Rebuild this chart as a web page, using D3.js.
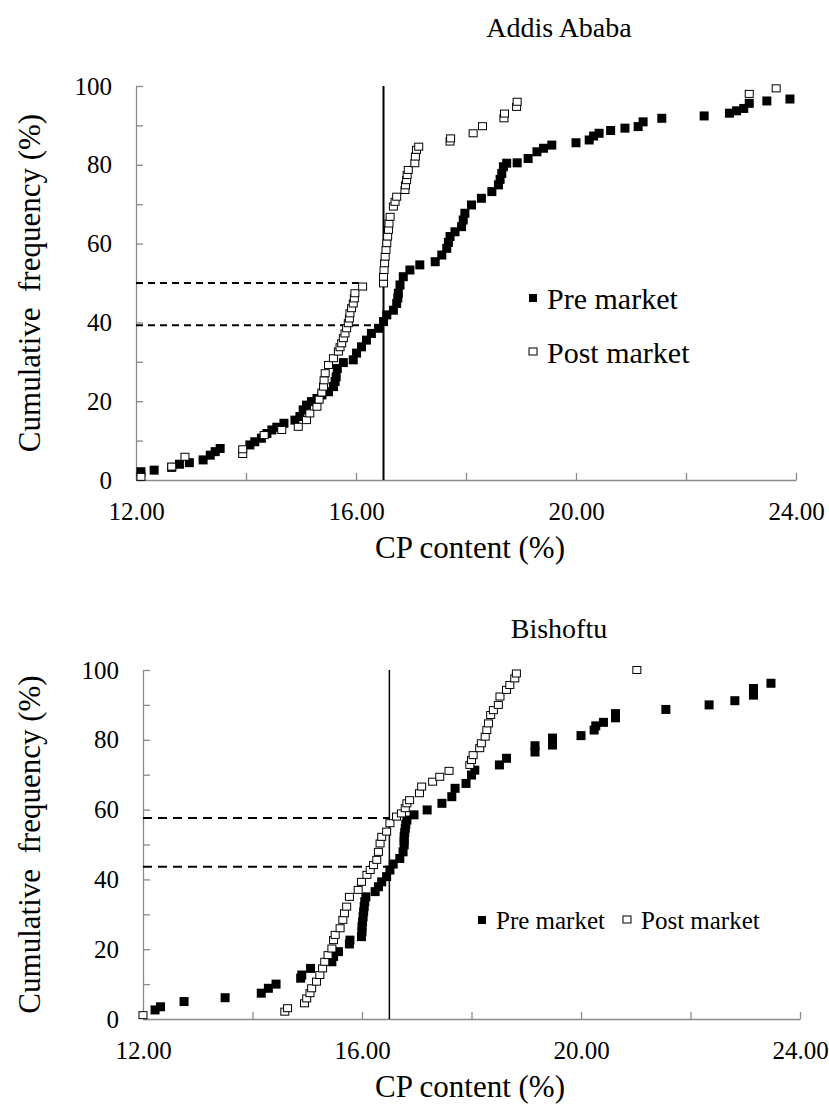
<!DOCTYPE html>
<html>
<head>
<meta charset="utf-8">
<script src="https://cdn.jsdelivr.net/npm/d3@7"></script>
<style>
  body { margin: 0; background: #fff; }
  svg { display: block; }
  svg text { font-family: "Liberation Serif", "Times New Roman", serif; }
</style>
</head>
<body>
<svg id="chart" width="829" height="1110"></svg>
<script>
// ----------- DATA -----------
// [CP content (%), cumulative frequency (%)]
const addisPre = [
  [12.09,2.1],[12.33,2.5],[12.65,3.2],[12.79,4.0],[12.97,4.4],[13.22,5.1],[13.35,6.3],[13.44,7.2],[13.53,8.0],
  [14.07,8.9],[14.16,9.7],[14.28,10.6],[14.38,11.8],[14.47,12.7],[14.56,13.4],[14.69,14.4],[14.89,15.2],[14.98,16.1],
  [15.04,17.8],[15.1,19.0],[15.19,19.9],[15.29,20.7],[15.38,21.6],[15.5,22.4],[15.59,23.7],[15.62,25.0],[15.64,26.2],
  [15.66,28.3],[15.77,29.8],[15.95,30.5],[16.01,32.2],[16.1,33.8],[16.19,35.5],[16.28,37.2],[16.41,38.5],[16.5,40.2],
  [16.56,41.9],[16.68,43.1],[16.74,44.8],[16.76,46.2],[16.77,47.4],[16.8,49.5],[16.86,51.6],[16.98,53.3],[17.16,54.6],
  [17.44,55.4],[17.56,57.1],[17.65,58.8],[17.68,60.3],[17.71,61.8],[17.8,63.0],[17.92,64.3],[17.95,66.0],[17.98,67.7],
  [18.1,69.8],[18.28,71.5],[18.47,73.2],[18.59,74.9],[18.62,76.3],[18.65,77.8],[18.68,79.5],[18.74,80.4],[18.93,80.5],
  [19.13,81.6],[19.29,83.3],[19.41,84.2],[19.56,85.0],[20.0,85.6],[20.24,86.3],[20.32,87.3],[20.42,88.0],[20.63,88.7],
  [20.89,89.3],[21.13,89.7],[21.22,90.9],[21.56,91.8],[22.33,92.4],[22.79,93.1],[22.92,93.7],[23.05,94.3],[23.15,95.6],
  [23.47,96.2],[23.89,96.7]
];

const addisPost = [
  [12.09,0.8],[12.65,3.4],[12.89,5.9],[13.94,6.6],[13.94,7.8],[14.33,11.4],[14.65,12.7],[14.95,13.5],[15.1,15.2],
  [15.16,16.9],[15.29,18.6],[15.33,20.4],[15.38,22.2],[15.41,23.7],[15.42,25.3],[15.44,27.1],[15.5,29.2],[15.59,30.9],
  [15.68,32.6],[15.71,33.7],[15.74,34.7],[15.77,36.0],[15.8,37.2],[15.83,38.5],[15.86,39.8],[15.88,41.0],[15.89,42.3],
  [15.92,43.6],[15.95,44.8],[15.97,46.1],[15.98,47.4],[16.12,49.1],[16.5,49.9],[16.5,51.6],[16.51,53.3],[16.52,55.0],
  [16.53,56.7],[16.545,58.4],[16.56,60.1],[16.575,61.8],[16.59,63.5],[16.6,65.1],[16.62,66.8],[16.68,69.4],[16.71,70.6],
  [16.74,71.9],[16.89,73.6],[16.9,74.8],[16.92,76.1],[16.93,77.4],[16.95,78.7],[17.07,80.4],[17.08,82.1],[17.1,83.8],
  [17.14,84.6],[17.71,85.9],[17.72,86.7],[18.13,88.0],[18.3,89.8],[18.69,91.8],[18.7,93.0],[18.92,94.7],[18.93,96.0],
  [23.15,98.0],[23.64,99.4]
];

const bishoftuPre = [
  [12.22,2.6],[12.32,3.5],[12.75,5.0],[13.5,6.1],[14.16,7.4],[14.29,8.8],[14.43,10.0],[14.88,11.7],[14.9,12.6],
  [15.06,14.5],[15.45,16.4],[15.48,17.9],[15.57,19.3],[15.77,21.5],[15.78,22.6],[15.99,23.6],[16.0,25.0],[16.0,26.4],
  [16.01,27.8],[16.02,29.3],[16.03,30.7],[16.04,32.2],[16.05,33.6],[16.07,35.0],[16.24,36.5],[16.3,37.9],[16.36,39.3],
  [16.45,40.8],[16.51,42.7],[16.57,44.4],[16.69,46.0],[16.75,47.9],[16.77,49.9],[16.77,51.0],[16.77,52.2],[16.78,53.4],
  [16.79,54.6],[16.8,55.8],[16.82,57.0],[16.95,58.5],[17.19,59.9],[17.46,61.8],[17.64,63.7],[17.7,66.1],[17.9,67.5],
  [18.0,69.9],[18.06,71.3],[18.51,72.8],[18.64,74.7],[19.16,76.5],[19.16,78.3],[19.48,78.5],[19.48,80.5],[20.0,81.2],
  [20.24,82.8],[20.27,84.0],[20.41,85.0],[20.63,86.3],[20.63,87.5],[21.55,88.7],[22.34,90.0],[22.81,91.2],[23.15,92.8],
  [23.15,94.7],[23.47,96.2]
];

const bishoftuPost = [
  [12.0,1.1],[14.59,2.1],[14.64,3.1],[14.95,4.5],[14.99,5.9],[15.05,7.4],[15.08,8.8],[15.17,10.7],[15.23,12.6],
  [15.28,14.5],[15.32,16.4],[15.38,18.3],[15.45,20.2],[15.48,22.6],[15.51,24.1],[15.6,26.0],[15.65,28.4],[15.68,30.3],
  [15.72,32.2],[15.77,35.0],[15.93,37.0],[15.99,39.3],[16.09,41.3],[16.15,42.7],[16.21,44.1],[16.27,45.6],[16.3,47.9],
  [16.33,50.3],[16.36,52.2],[16.45,53.7],[16.51,56.1],[16.63,58.0],[16.72,58.9],[16.79,60.4],[16.82,61.8],[16.87,62.7],
  [17.05,64.7],[17.09,66.6],[17.29,68.0],[17.42,69.4],[17.59,71.1],[17.97,72.8],[18.0,74.2],[18.03,75.6],[18.15,77.6],
  [18.18,79.0],[18.25,80.9],[18.28,82.8],[18.31,84.7],[18.35,87.1],[18.4,88.5],[18.49,90.0],[18.52,92.4],[18.64,94.3],
  [18.7,95.7],[18.79,97.6],[18.82,99.0],[21.02,100.0]
];

const xTicks = [12, 14, 16, 18, 20, 22, 24];
const yTicks = [0, 10, 20, 30, 40, 50, 60, 70, 80, 90, 100];
const seriesNames = ["Pre market", "Post market"];
const cpThreshold = 16.5;
// dashed guide lines: [frequency, CP where it stops]
const addisGuides = [[50, 16.05], [39.3, 16.5]];
const bishoftuGuides = [[57.6, 16.5], [43.6, 16.45]];

// ----------- DRAWING -----------
const svg = d3.select("#chart");
const serif = "Liberation Serif, Times New Roman, serif";

function drawPanel(p) {
  const g = svg.append("g");
  const x = d3.scaleLinear().domain([12, 24]).range([p.left, p.left + p.w]);
  const y = d3.scaleLinear().domain([0, 100]).range([p.top + p.h, p.top]);

  // axes
  const yAxis = g.append("g")
    .attr("transform", `translate(${p.left},0)`)
    .call(d3.axisLeft(y).tickValues(yTicks).tickSize(-7).tickSizeOuter(0).tickPadding(24)
      .tickFormat(d => d % 20 === 0 ? d : ""));
  const xAxis = g.append("g")
    .attr("transform", `translate(0,${p.top + p.h})`)
    .call(d3.axisBottom(x).tickValues(xTicks).tickSize(-7).tickSizeOuter(0).tickPadding(22)
      .tickFormat(d => d % 4 === 0 ? d.toFixed(2) : ""));
  [xAxis, yAxis].forEach(a => {
    a.attr("font-family", serif);
    a.selectAll("path, line").attr("stroke", "#8a8a8a").attr("stroke-width", 1.3);
    a.selectAll("text").attr("fill", "#000").attr("font-size", 25);
  });

  // guide lines
  g.append("line")
    .attr("x1", x(cpThreshold)).attr("x2", x(cpThreshold))
    .attr("y1", y(100)).attr("y2", y(0))
    .attr("stroke", "#000").attr("stroke-width", p.vWidth);

  g.selectAll(".guide")
    .data(p.guides)
    .enter()
    .append("line")
    .attr("x1", x(12)).attr("x2", d => x(d[1]))
    .attr("y1", d => y(d[0])).attr("y2", d => y(d[0]))
    .attr("stroke", "#000").attr("stroke-width", 2).attr("stroke-dasharray", p.dash);

  // points: pre market (filled) then post market (open) on top
  g.selectAll(".pre")
    .data(p.pre)
    .enter()
    .append("rect")
    .attr("x", d => x(d[0]) - 4.5)
    .attr("y", d => y(d[1]) - 4.5)
    .attr("width", 9).attr("height", 9)
    .attr("fill", "#000");

  g.selectAll(".post")
    .data(p.post)
    .enter()
    .append("rect")
    .attr("x", d => x(d[0]) - 4)
    .attr("y", d => y(d[1]) - 3.5)
    .attr("width", 8).attr("height", 7)
    .attr("fill", "#fff").attr("stroke", "#000").attr("stroke-width", 1);

  // titles
  g.append("text")
    .attr("x", 559).attr("y", p.titleY)
    .attr("text-anchor", "middle").attr("font-size", 28)
    .attr("font-family", serif)
    .text(p.title);

  g.append("text")
    .attr("x", 470).attr("y", p.top + p.h + 78)
    .attr("text-anchor", "middle").attr("font-size", 31)
    .attr("font-family", serif)
    .text("CP content (%)");

  g.append("text")
    .attr("transform", `translate(40,${p.top + p.h / 2}) rotate(-90)`)
    .attr("text-anchor", "middle").attr("font-size", 31)
    .attr("font-family", serif)
    .attr("xml:space", "preserve")
    .text("Cumulative  frequency (%)");

  return g;
}

function legendItem(g, lx, ly, name, filled, size) {
  g.append("rect")
    .attr("x", lx - 4).attr("y", ly - 4)
    .attr("width", 8).attr("height", filled ? 8 : 7)
    .attr("fill", filled ? "#000" : "#fff")
    .attr("stroke", filled ? "none" : "#000");
  g.append("text")
    .attr("x", lx + 14).attr("y", ly + size * 0.35)
    .attr("font-size", size)
    .attr("font-family", serif)
    .text(name);
}

const addisPanel = drawPanel({
  title: "Addis Ababa", titleY: 37,
  pre: addisPre, post: addisPost, guides: addisGuides,
  left: 136, top: 86, w: 660, h: 394, vWidth: 2, dash: "7,5"
});
legendItem(addisPanel, 533, 298, seriesNames[0], true, 30);
legendItem(addisPanel, 533, 352, seriesNames[1], false, 30);

const bishoftuPanel = drawPanel({
  title: "Bishoftu", titleY: 638,
  pre: bishoftuPre, post: bishoftuPost, guides: bishoftuGuides,
  left: 143, top: 670, w: 657, h: 349, vWidth: 1.5, dash: "9,6"
});
legendItem(bishoftuPanel, 482, 920, seriesNames[0], true, 25);
legendItem(bishoftuPanel, 627, 920, seriesNames[1], false, 25);
</script>
</body>
</html>
